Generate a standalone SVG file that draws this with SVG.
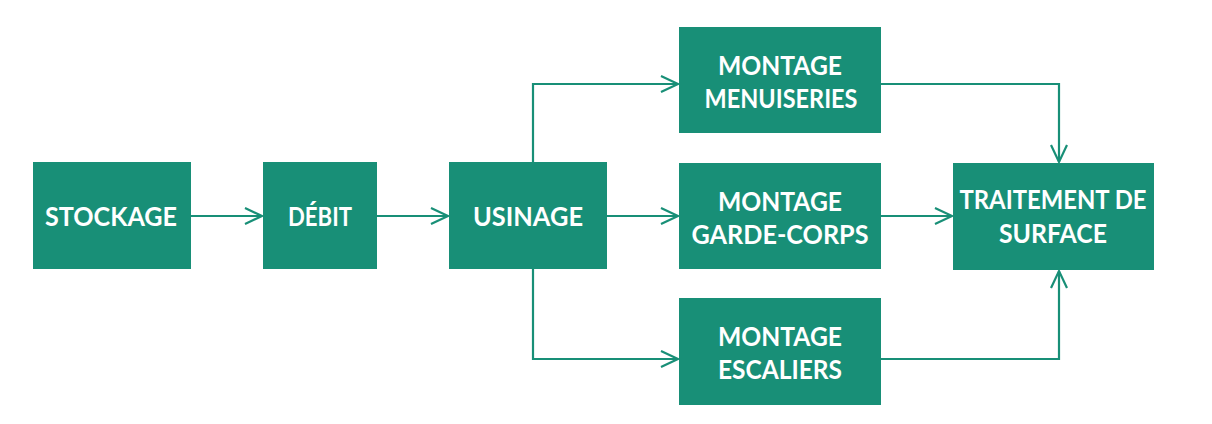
<svg xmlns="http://www.w3.org/2000/svg" width="1212" height="424" viewBox="0 0 1212 424">
<defs>
<style>
.box{fill:#188f77;}
.lbl{font-family:Lato,"Open Sans","Liberation Sans",sans-serif;font-weight:bold;font-size:27px;fill:#ffffff;text-anchor:middle;}
.conn{fill:none;stroke:#188f77;stroke-width:2.2;marker-end:url(#arr);}
</style>
<marker id="arr" markerUnits="userSpaceOnUse" markerWidth="22" markerHeight="20" refX="18" refY="9" orient="auto">
<path d="M1,1 L18,9 L1,17" fill="none" stroke="#188f77" stroke-width="2.2" stroke-linejoin="miter"/>
</marker>
</defs>
<rect width="1212" height="424" fill="#ffffff"/>
<g id="connectors">
<path class="conn" d="M191,216 L262,216"/>
<path class="conn" d="M377,216 L448,216"/>
<path class="conn" d="M607,216 L678,216"/>
<path class="conn" d="M533,163 L533,84 L678,84"/>
<path class="conn" d="M533,269 L533,359 L678,359"/>
<path class="conn" d="M881,84 L1059,84 L1059,162"/>
<path class="conn" d="M881,216 L952,216"/>
<path class="conn" d="M881,359 L1059,359 L1059,271"/>
</g>
<g id="stockage">
<rect class="box" x="33" y="162" width="158" height="107"/>
<text class="lbl" x="111" y="226" textLength="132" lengthAdjust="spacingAndGlyphs">STOCKAGE</text>
</g>
<g id="debit">
<rect class="box" x="263" y="162" width="114" height="107"/>
<text class="lbl" x="320" y="226" textLength="64" lengthAdjust="spacingAndGlyphs">DÉBIT</text>
</g>
<g id="usinage">
<rect class="box" x="449" y="162" width="158" height="107"/>
<text class="lbl" x="528" y="226" textLength="110" lengthAdjust="spacingAndGlyphs">USINAGE</text>
</g>
<g id="montage-menuiseries">
<rect class="box" x="679" y="27" width="202" height="106"/>
<text class="lbl" x="780" y="75" textLength="124" lengthAdjust="spacingAndGlyphs">MONTAGE</text>
<text class="lbl" x="781" y="108" textLength="153" lengthAdjust="spacingAndGlyphs">MENUISERIES</text>
</g>
<g id="montage-garde-corps">
<rect class="box" x="679" y="163" width="202" height="106"/>
<text class="lbl" x="780" y="211" textLength="124" lengthAdjust="spacingAndGlyphs">MONTAGE</text>
<text class="lbl" x="780" y="244" textLength="177" lengthAdjust="spacingAndGlyphs">GARDE-CORPS</text>
</g>
<g id="montage-escaliers">
<rect class="box" x="679" y="298" width="202" height="107"/>
<text class="lbl" x="780" y="346" textLength="124" lengthAdjust="spacingAndGlyphs">MONTAGE</text>
<text class="lbl" x="780" y="379" textLength="124" lengthAdjust="spacingAndGlyphs">ESCALIERS</text>
</g>
<g id="traitement-de-surface">
<rect class="box" x="953" y="163" width="201" height="107"/>
<text class="lbl" x="1053" y="209" textLength="187" lengthAdjust="spacingAndGlyphs">TRAITEMENT DE</text>
<text class="lbl" x="1053" y="243" textLength="108" lengthAdjust="spacingAndGlyphs">SURFACE</text>
</g>
</svg>
